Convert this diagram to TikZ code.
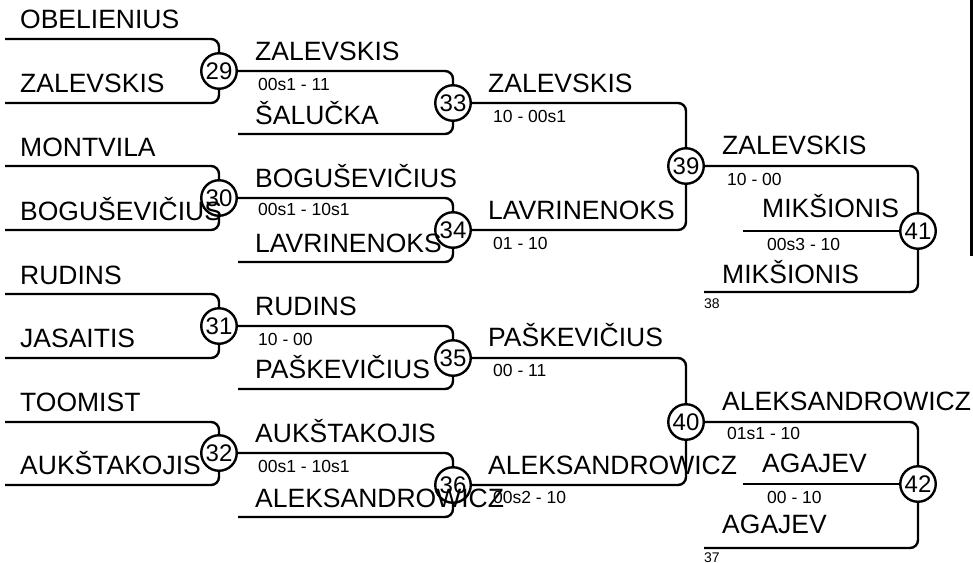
\documentclass[tikz,border=0pt]{standalone}
\usepackage{fontspec}
\setmainfont{Liberation Sans}
\usepackage{tikz}

\begin{document}
\begin{tikzpicture}[
    x=1pt, y=-1pt,
    player/.style={anchor=base west, inner sep=0pt, font=\fontsize{26.5}{30}\selectfont},
    score/.style={anchor=base west, inner sep=0pt, font=\fontsize{17.5}{20}\selectfont},
    seedno/.style={anchor=base west, inner sep=0pt, font=\fontsize{14}{16}\selectfont},
    match/.style={circle, draw, line width=2.4pt, minimum size=35.5pt,
                  inner sep=0pt, font=\fontsize{24}{24}\selectfont},
    wire/.style={line width=2.4pt, rounded corners=8pt}
]
    \useasboundingbox (0,0) rectangle (973,562);

    \node[match] (m29) at (219,71)  {29};
    \node[match] (m30) at (219,198) {30};
    \node[match] (m31) at (219,326) {31};
    \node[match] (m32) at (219,453) {32};
    \node[match] (m33) at (453,103) {33};
    \node[match] (m34) at (453,230) {34};
    \node[match] (m35) at (453,358) {35};
    \node[match] (m36) at (453,485) {36};
    \node[match] (m39) at (686,166) {39};
    \node[match] (m40) at (686,422) {40};
    \node[match] (m41) at (918,231) {41};
    \node[match] (m42) at (918,484) {42};

    \coordinate (a29) at (5,39);   \coordinate (b29) at (5,103);
    \coordinate (a30) at (5,166);  \coordinate (b30) at (5,230);
    \coordinate (a31) at (5,294);  \coordinate (b31) at (5,358);
    \coordinate (a32) at (5,422);  \coordinate (b32) at (5,485);
    \coordinate (b33) at (238,134);
    \coordinate (b34) at (238,262);
    \coordinate (b35) at (238,389);
    \coordinate (b36) at (238,517);
    \coordinate (c41) at (743,231); \coordinate (b41) at (704,292);
    \coordinate (c42) at (743,484); \coordinate (b42) at (704,548);

    \draw[wire] (a29) -| (m29);  \draw[wire] (b29) -| (m29);
    \draw[wire] (a30) -| (m30);  \draw[wire] (b30) -| (m30);
    \draw[wire] (a31) -| (m31);  \draw[wire] (b31) -| (m31);
    \draw[wire] (a32) -| (m32);  \draw[wire] (b32) -| (m32);

    \draw[wire] (m29) -| (m33);  \draw[wire] (b33) -| (m33);
    \draw[wire] (m30) -| (m34);  \draw[wire] (b34) -| (m34);
    \draw[wire] (m31) -| (m35);  \draw[wire] (b35) -| (m35);
    \draw[wire] (m32) -| (m36);  \draw[wire] (b36) -| (m36);

    \draw[wire] (m33) -| (m39);  \draw[wire] (m34) -| (m39);
    \draw[wire] (m35) -| (m40);  \draw[wire] (m36) -| (m40);

    \draw[wire] (m39) -| (m41);  \draw[wire] (c41) -- (m41);  \draw[wire] (b41) -| (m41);
    \draw[wire] (m40) -| (m42);  \draw[wire] (c42) -- (m42);  \draw[wire] (b42) -| (m42);

    \draw[line width=3pt] (971,0) -- (971,256);

    \node[player] (p1) at (20,28)  {OBELIENIUS};
    \node[player] (p2) at (20,92)  {ZALEVSKIS};
    \node[player] (p3) at (20,156) {MONTVILA};
    \node[player] (p4) at (20,220) {BOGUŠEVIČIUS};
    \node[player] (p5) at (20,284) {RUDINS};
    \node[player] (p6) at (20,347) {JASAITIS};
    \node[player] (p7) at (20,411) {TOOMIST};
    \node[player] (p8) at (20,474) {AUKŠTAKOJIS};

    \node[player] (q1) at (255,60)  {ZALEVSKIS};
    \node[score]  (s29) at (258,90) {00s1 - 11};
    \node[player] (q2) at (255,124) {ŠALUČKA};
    \node[player] (q3) at (255,187) {BOGUŠEVIČIUS};
    \node[score]  (s30) at (258,215) {00s1 - 10s1};
    \node[player] (q4) at (255,252) {LAVRINENOKS};
    \node[player] (q5) at (255,315) {RUDINS};
    \node[score]  (s31) at (258,345) {10 - 00};
    \node[player] (q6) at (255,378) {PAŠKEVIČIUS};
    \node[player] (q7) at (255,442) {AUKŠTAKOJIS};
    \node[score]  (s32) at (258,472) {00s1 - 10s1};
    \node[player] (q8) at (255,507) {ALEKSANDROWICZ};

    \node[player] (r1) at (488,92)  {ZALEVSKIS};
    \node[score]  (s33) at (493,122) {10 - 00s1};
    \node[player] (r2) at (488,219) {LAVRINENOKS};
    \node[score]  (s34) at (493,249) {01 - 10};
    \node[player] (r3) at (488,346) {PAŠKEVIČIUS};
    \node[score]  (s35) at (493,376) {00 - 11};
    \node[player] (r4) at (488,474) {ALEKSANDROWICZ};
    \node[score]  (s36) at (493,503) {00s2 - 10};

    \node[player] (t1) at (722,154) {ZALEVSKIS};
    \node[score]  (s39) at (727,185) {10 - 00};
    \node[player] (t2) at (762,217) {MIKŠIONIS};
    \node[score]  (s41) at (767,250) {00s3 - 10};
    \node[player] (t3) at (722,283) {MIKŠIONIS};
    \node[seedno] (n38) at (704,308) {38};
    \node[player] (t4) at (722,410) {ALEKSANDROWICZ};
    \node[score]  (s40) at (727,439) {01s1 - 10};
    \node[player] (t5) at (762,472) {AGAJEV};
    \node[score]  (s42) at (767,503) {00 - 10};
    \node[player] (t6) at (722,533) {AGAJEV};
    \node[seedno] (n37) at (704,562) {37};
\end{tikzpicture}
\end{document}
